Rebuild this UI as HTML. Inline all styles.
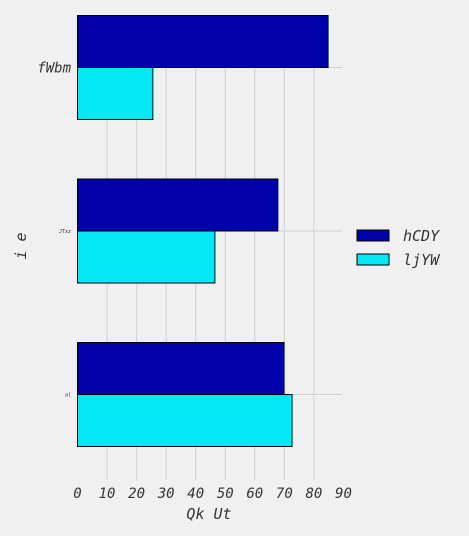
<!DOCTYPE html>
<html><head><meta charset="utf-8"><style>
html,body{margin:0;padding:0;background:#f0f0f0;}
svg{display:block;font-family:"DejaVu Sans Mono","Liberation Mono",monospace;}
</style></head><body>
<svg id="chart" width="469" height="536" viewBox="0 0 469 536" xmlns="http://www.w3.org/2000/svg">
<rect width="469" height="536" fill="#f0f0f0"/>
<g id="grid"></g><g id="bars"></g><g id="ticks"></g>
<text x="209" y="519" font-size="15" font-style="italic" fill="#333" text-anchor="middle">Qk Ut</text>
<text transform="translate(26,246) rotate(-90)" font-size="15" font-style="italic" fill="#333" text-anchor="middle">i e</text>
<g>
<rect x="357" y="230" width="32" height="11" fill="#0000aa" stroke="#000" stroke-width="1"/>
<text x="403" y="241" font-size="15" font-style="italic" fill="#333">hCDY</text>
<rect x="357" y="254" width="32" height="11" fill="#00e8f4" stroke="#000" stroke-width="1"/>
<text x="403" y="265" font-size="15" font-style="italic" fill="#333">ljYW</text>
</g>
</svg>
<script>
const categories = ["fWbm", "JTxz", "al"];
const seriesHCDY = [84.8, 67.8, 69.9];
const seriesLjYW = [25.5, 46.5, 72.6];
const xTicks = [0, 10, 20, 30, 40, 50, 60, 70, 80, 90];
const catFontSizes = [14, 5, 5];

const NS = "http://www.w3.org/2000/svg";
const x0 = 77.5, xs = 2.955, xRight = 342;
const xPos = v => x0 + v * xs;
const yTop = 15, yBot = 480, catStep = 163.5, cat0 = 67.5, barH = 52;
const yPos = i => cat0 + i * catStep;
function mk(tag, attrs, parent){const e=document.createElementNS(NS,tag);for(const k in attrs)e.setAttribute(k,attrs[k]);parent.appendChild(e);return e;}
const grid=document.getElementById('grid'), bars=document.getElementById('bars'), ticks=document.getElementById('ticks');
xTicks.forEach(t=>{
  const x=xPos(t);
  if(t>0 && x<=xRight){const l=mk('line',{x1:x,x2:x,y1:yTop,y2:yBot,stroke:'#d0d0d0','stroke-width':1},grid);
  
  }
  const tx=mk('text',{x:x,y:498,'font-size':14,'font-style':'italic',fill:'#333','text-anchor':'middle'},ticks);
  tx.textContent=t;
  
  
});
categories.forEach((c,i)=>{
  const y=yPos(i);
  const g=mk('line',{x1:x0,x2:xRight,y1:y,y2:y,stroke:'#d0d0d0','stroke-width':1},grid);
  
  
  const b1=mk('rect',{x:x0,y:y-barH,width:xPos(seriesHCDY[i])-x0,height:barH,fill:'#0000aa',stroke:'#000','stroke-width':1},bars);
  
  
  const b2=mk('rect',{x:x0,y:y,width:xPos(seriesLjYW[i])-x0,height:barH,fill:'#00e8f4',stroke:'#000','stroke-width':1},bars);
  
  
  const fs=catFontSizes[i];
  const t=mk('text',{x:71,y:y+fs*0.35,'font-size':fs,'font-style':'italic',fill:'#333','text-anchor':'end'},ticks);
  t.textContent=c;
  
  
});
</script>
</body></html>
